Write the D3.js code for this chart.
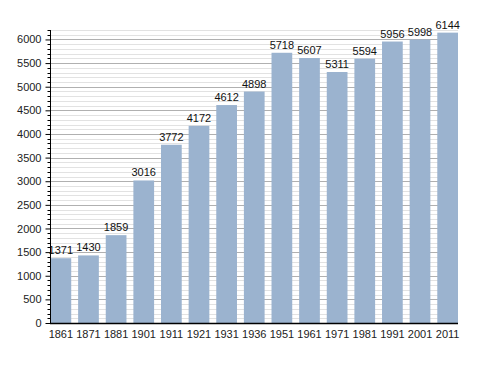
<!DOCTYPE html>
<html><head><meta charset="utf-8">
<script src="https://cdn.jsdelivr.net/npm/d3@7"></script>
<style>body{margin:0;background:#fff}svg{display:block}text{font-family:"Liberation Sans",Arial,sans-serif}</style>
</head><body><svg id="c" width="488" height="373"></svg>
<script>
const years = ["1861","1871","1881","1901","1911","1921","1931","1936","1951","1961","1971","1981","1991","2001","2011"];
const population = [1371,1430,1859,3016,3772,4172,4612,4898,5718,5607,5311,5594,5956,5998,6144];
const majorTicks = [0,500,1000,1500,2000,2500,3000,3500,4000,4500,5000,5500,6000];

(function(){
const svg = d3.select("#c");
const mL = 50, mR = 458, mT = 30, mB = 323;
const x = d3.scaleBand().domain(years).range([mL + 0.5, mR]).paddingInner(0.25).paddingOuter(0);
const y = d3.scaleLinear().domain([0, 6200]).range([mB, mT]);
const minor = d3.range(0, 6201, 100);

// gridlines
svg.append("g").selectAll("line").data(minor.filter(v => v % 500 !== 0)).join("line")
  .attr("x1", mL).attr("x2", mR).attr("y1", d => Math.round(y(d)) + 0.5).attr("y2", d => Math.round(y(d)) + 0.5)
  .attr("stroke", "#e2e2e2").attr("stroke-width", 1);
svg.append("g").selectAll("line").data(majorTicks.filter(v => v > 0)).join("line")
  .attr("x1", mL).attr("x2", mR).attr("y1", d => Math.round(y(d)) + 0.5).attr("y2", d => Math.round(y(d)) + 0.5)
  .attr("stroke", "#b0b0b0").attr("stroke-width", 1);

// bars
svg.append("g").selectAll("rect").data(population).join("rect")
  .attr("x", (d, i) => x(years[i])).attr("width", x.bandwidth())
  .attr("y", d => y(d)).attr("height", d => mB - y(d))
  .attr("fill", "#9bb3cf");

// value labels
svg.append("g").selectAll("text").data(population).join("text")
  .attr("x", (d, i) => x(years[i]) + x.bandwidth() / 2).attr("y", d => y(d) - 4)
  .attr("text-anchor", "middle").attr("font-size", 11).attr("fill", "#111")
  .text(d => d);

// y axis
const ya = svg.append("g").attr("transform", `translate(${mL + 0.5},0)`);
ya.call(d3.axisLeft(y).tickValues(majorTicks).tickSize(5).tickFormat(d => d))
  .call(g => g.select(".domain").remove())
  .call(g => g.selectAll("text").attr("font-size", 11).attr("fill", "#222").attr("x", -9))
  .call(g => g.selectAll("line").attr("stroke", "#000"));
ya.selectAll(".minor").data(minor.filter(v => v % 500 !== 0)).join("line").attr("class", "minor")
  .attr("x1", -3).attr("x2", 0).attr("y1", d => Math.round(y(d)) + 0.5).attr("y2", d => Math.round(y(d)) + 0.5)
  .attr("stroke", "#000");
ya.append("line").attr("x1", 0).attr("x2", 0).attr("y1", mT).attr("y2", mB).attr("stroke", "#000");

// x axis
const xa = svg.append("g").attr("transform", `translate(0,${mB})`);
xa.call(d3.axisBottom(x).tickSize(0).tickPadding(7))
  .call(g => g.select(".domain").remove())
  .call(g => g.selectAll("text").attr("font-size", 11).attr("fill", "#222"));
xa.append("line").attr("x1", mL).attr("x2", mR).attr("y1", 0.5).attr("y2", 0.5).attr("stroke", "#000").attr("stroke-width", 1.5);
})();
</script></body></html>
